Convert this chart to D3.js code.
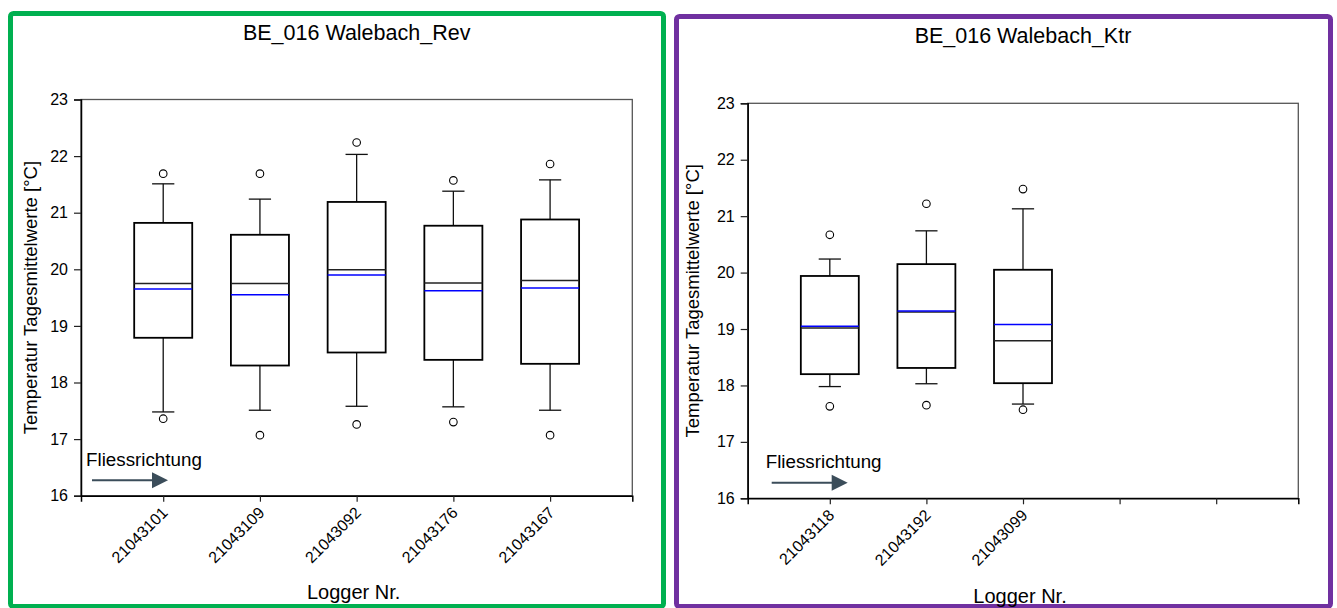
<!DOCTYPE html>
<html>
<head>
<meta charset="utf-8">
<script src="https://cdn.jsdelivr.net/npm/d3@7"></script>
<style>
  html, body { margin: 0; padding: 0; background: #fff; }
  svg { display: block; font-family: "Liberation Sans", Arial, sans-serif; }
</style>
</head>
<body>
<svg id="chart" width="1337" height="608"></svg>
<script>
// ---------- data ----------
const yTicks = [16, 17, 18, 19, 20, 21, 22, 23];

const revTitle = "BE_016 Walebach_Rev";
const revLoggers = ["21043101", "21043109", "21043092", "21043176", "21043167"];
const revWhiskerLow  = [17.48, 17.51, 17.58, 17.57, 17.51];
const revQ1          = [18.79, 18.30, 18.53, 18.40, 18.33];
const revMedian      = [19.75, 19.75, 19.99, 19.76, 19.80];
const revMean        = [19.65, 19.55, 19.90, 19.62, 19.67];
const revQ3          = [20.82, 20.61, 21.19, 20.77, 20.88];
const revWhiskerHigh = [21.51, 21.24, 22.03, 21.38, 21.58];
const revOutlierLow  = [17.36, 17.07, 17.26, 17.30, 17.07];
const revOutlierHigh = [21.69, 21.69, 22.24, 21.57, 21.86];

const ktrTitle = "BE_016 Walebach_Ktr";
const ktrLoggers = ["21043118", "21043192", "21043099", "", ""];
const ktrWhiskerLow  = [17.98, 18.03, 17.67];
const ktrQ1          = [18.20, 18.31, 18.04];
const ktrMedian      = [19.02, 19.30, 18.79];
const ktrMean        = [19.05, 19.32, 19.08];
const ktrQ3          = [19.94, 20.15, 20.05];
const ktrWhiskerHigh = [20.24, 20.74, 21.13];
const ktrOutlierLow  = [17.63, 17.65, 17.57];
const ktrOutlierHigh = [20.67, 21.22, 21.48];

const yLabel = "Temperatur Tagesmittelwerte [°C]";
const xLabel = "Logger Nr.";
const flowLabel = "Fliessrichtung";

// ---------- drawing ----------
const svg = d3.select("#chart");
const FONT = "'Liberation Sans', Arial, sans-serif";

function panel(cfg) {
  const g = svg.append("g");
  // frame
  g.append("rect")
    .attr("x", cfg.frame[0]).attr("y", cfg.frame[1])
    .attr("width", cfg.frame[2] - cfg.frame[0]).attr("height", cfg.frame[3] - cfg.frame[1])
    .attr("rx", 3)
    .attr("fill", "none").attr("stroke", cfg.frameColor).attr("stroke-width", 5);

  const x = d3.scaleLinear().domain([0.15, cfg.loggers.length + 0.85]).range([cfg.left, cfg.right]);
  const y = d3.scaleLinear().domain([16, 23]).range([cfg.bottom, cfg.top]);

  // plot border (top/right)
  g.append("rect")
    .attr("x", cfg.left).attr("y", cfg.top)
    .attr("width", cfg.right - cfg.left).attr("height", cfg.bottom - cfg.top)
    .attr("fill", "none").attr("stroke", "#555").attr("stroke-width", 1.3);

  // y axis
  const ya = g.append("g").attr("transform", `translate(${cfg.left},0)`)
    .call(d3.axisLeft(y).tickValues(yTicks).tickSize(7).tickPadding(6).tickFormat(d3.format("d")));
  ya.select(".domain").attr("stroke", "#000").attr("stroke-width", 1.5);
  ya.selectAll(".tick line").attr("stroke", "#222").attr("stroke-width", 1.2);
  ya.selectAll("text").style("font-family", FONT).style("font-size", "16px").attr("fill", "#000");

  // x axis
  const idx = cfg.loggers.map((d, i) => i + 1);
  const xa = g.append("g").attr("transform", `translate(0,${cfg.bottom})`)
    .call(d3.axisBottom(x).tickValues(idx).tickSize(6).tickFormat((d) => cfg.loggers[d - 1]));
  xa.select(".domain").attr("stroke", "#000").attr("stroke-width", 1.5);
  xa.selectAll(".tick line").attr("stroke", "#222").attr("stroke-width", 1.2);
  xa.selectAll("text")
    .style("font-family", FONT).style("font-size", "16px").attr("fill", "#000")
    .attr("x", 0).attr("y", 0).attr("dy", 0)
    .attr("text-anchor", "end")
    .attr("transform", "translate(5,18) rotate(-45)");

  // boxes
  const n = cfg.q1.length;
  const data = d3.range(n).map((i) => ({
    i: i + 1, wl: cfg.wl[i], q1: cfg.q1[i], med: cfg.med[i], mean: cfg.mean[i],
    q3: cfg.q3[i], wh: cfg.wh[i], ol: cfg.ol[i], oh: cfg.oh[i]
  }));
  const bw = 0.3, cw = 0.115;
  const bx = g.append("g").selectAll("g").data(data).join("g");
  // whiskers
  bx.append("line").attr("x1", (d) => x(d.i)).attr("x2", (d) => x(d.i))
    .attr("y1", (d) => y(d.q3)).attr("y2", (d) => y(d.wh)).attr("stroke", "#111").attr("stroke-width", 1.3);
  bx.append("line").attr("x1", (d) => x(d.i)).attr("x2", (d) => x(d.i))
    .attr("y1", (d) => y(d.q1)).attr("y2", (d) => y(d.wl)).attr("stroke", "#111").attr("stroke-width", 1.3);
  bx.append("line").attr("x1", (d) => x(d.i - cw)).attr("x2", (d) => x(d.i + cw))
    .attr("y1", (d) => y(d.wh)).attr("y2", (d) => y(d.wh)).attr("stroke", "#111").attr("stroke-width", 1.3);
  bx.append("line").attr("x1", (d) => x(d.i - cw)).attr("x2", (d) => x(d.i + cw))
    .attr("y1", (d) => y(d.wl)).attr("y2", (d) => y(d.wl)).attr("stroke", "#111").attr("stroke-width", 1.3);
  // box
  bx.append("rect").attr("x", (d) => x(d.i - bw)).attr("width", (d) => x(d.i + bw) - x(d.i - bw))
    .attr("y", (d) => y(d.q3)).attr("height", (d) => y(d.q1) - y(d.q3))
    .attr("fill", "#fff").attr("stroke", "#000").attr("stroke-width", 1.8);
  // median
  bx.append("line").attr("x1", (d) => x(d.i - bw)).attr("x2", (d) => x(d.i + bw))
    .attr("y1", (d) => y(d.med)).attr("y2", (d) => y(d.med)).attr("stroke", "#222").attr("stroke-width", 1.5);
  // mean
  bx.append("line").attr("x1", (d) => x(d.i - bw)).attr("x2", (d) => x(d.i + bw))
    .attr("y1", (d) => y(d.mean)).attr("y2", (d) => y(d.mean)).attr("stroke", "#0000ff").attr("stroke-width", 1.5);
  // outliers
  bx.append("circle").attr("cx", (d) => x(d.i)).attr("cy", (d) => y(d.oh)).attr("r", 3.8)
    .attr("fill", "#fff").attr("stroke", "#000").attr("stroke-width", 1.1);
  bx.append("circle").attr("cx", (d) => x(d.i)).attr("cy", (d) => y(d.ol)).attr("r", 3.8)
    .attr("fill", "none").attr("stroke", "#000").attr("stroke-width", 1.1);

  // titles & labels
  const cx = (cfg.left + cfg.right) / 2;
  g.append("text").attr("x", cx).attr("y", cfg.titleY).attr("text-anchor", "middle")
    .style("font-family", FONT).style("font-size", "21.5px").attr("fill", "#000").text(cfg.title);
  g.append("text").attr("x", cx - 3).attr("y", cfg.xLabelY).attr("text-anchor", "middle")
    .style("font-family", FONT).style("font-size", "20px").attr("fill", "#000").text(xLabel);
  g.append("text")
    .attr("transform", `translate(${cfg.left + cfg.yLabelDx},${(cfg.top + cfg.bottom) / 2}) rotate(-90)`)
    .attr("text-anchor", "middle")
    .style("font-family", FONT).style("font-size", "18.5px").attr("fill", "#000").text(yLabel);

  // flow direction annotation
  const fx = cfg.left + cfg.flowDx;
  g.append("text").attr("x", fx).attr("y", cfg.bottom - 30)
    .style("font-family", FONT).style("font-size", "18.8px").attr("fill", "#000").text(flowLabel);
  const ay = cfg.bottom - 15.5;
  g.append("line").attr("x1", fx + 6).attr("x2", fx + 68).attr("y1", ay).attr("y2", ay)
    .attr("stroke", "#3b4d5a").attr("stroke-width", 2);
  g.append("path")
    .attr("d", `M${fx + 66},${ay - 8} L${fx + 82},${ay} L${fx + 66},${ay + 8} Z`)
    .attr("fill", "#3b4d5a");
}

panel({
  frame: [10.5, 13.5, 663.5, 606.5], frameColor: "#00b050",
  left: 81, right: 632.3, top: 99.5, bottom: 495.7,
  loggers: revLoggers, title: revTitle, titleY: 39.5, xLabelY: 599,
  yLabelDx: -44, flowDx: 5,
  wl: revWhiskerLow, q1: revQ1, med: revMedian, mean: revMean, q3: revQ3,
  wh: revWhiskerHigh, ol: revOutlierLow, oh: revOutlierHigh
});

panel({
  frame: [676.5, 16.5, 1330.5, 606.5], frameColor: "#7030a0",
  left: 747.7, right: 1298.3, top: 103.3, bottom: 498.3,
  loggers: ktrLoggers, title: ktrTitle, titleY: 43, xLabelY: 603,
  yLabelDx: -48.5, flowDx: 18,
  wl: ktrWhiskerLow, q1: ktrQ1, med: ktrMedian, mean: ktrMean, q3: ktrQ3,
  wh: ktrWhiskerHigh, ol: ktrOutlierLow, oh: ktrOutlierHigh
});
</script>
</body>
</html>
